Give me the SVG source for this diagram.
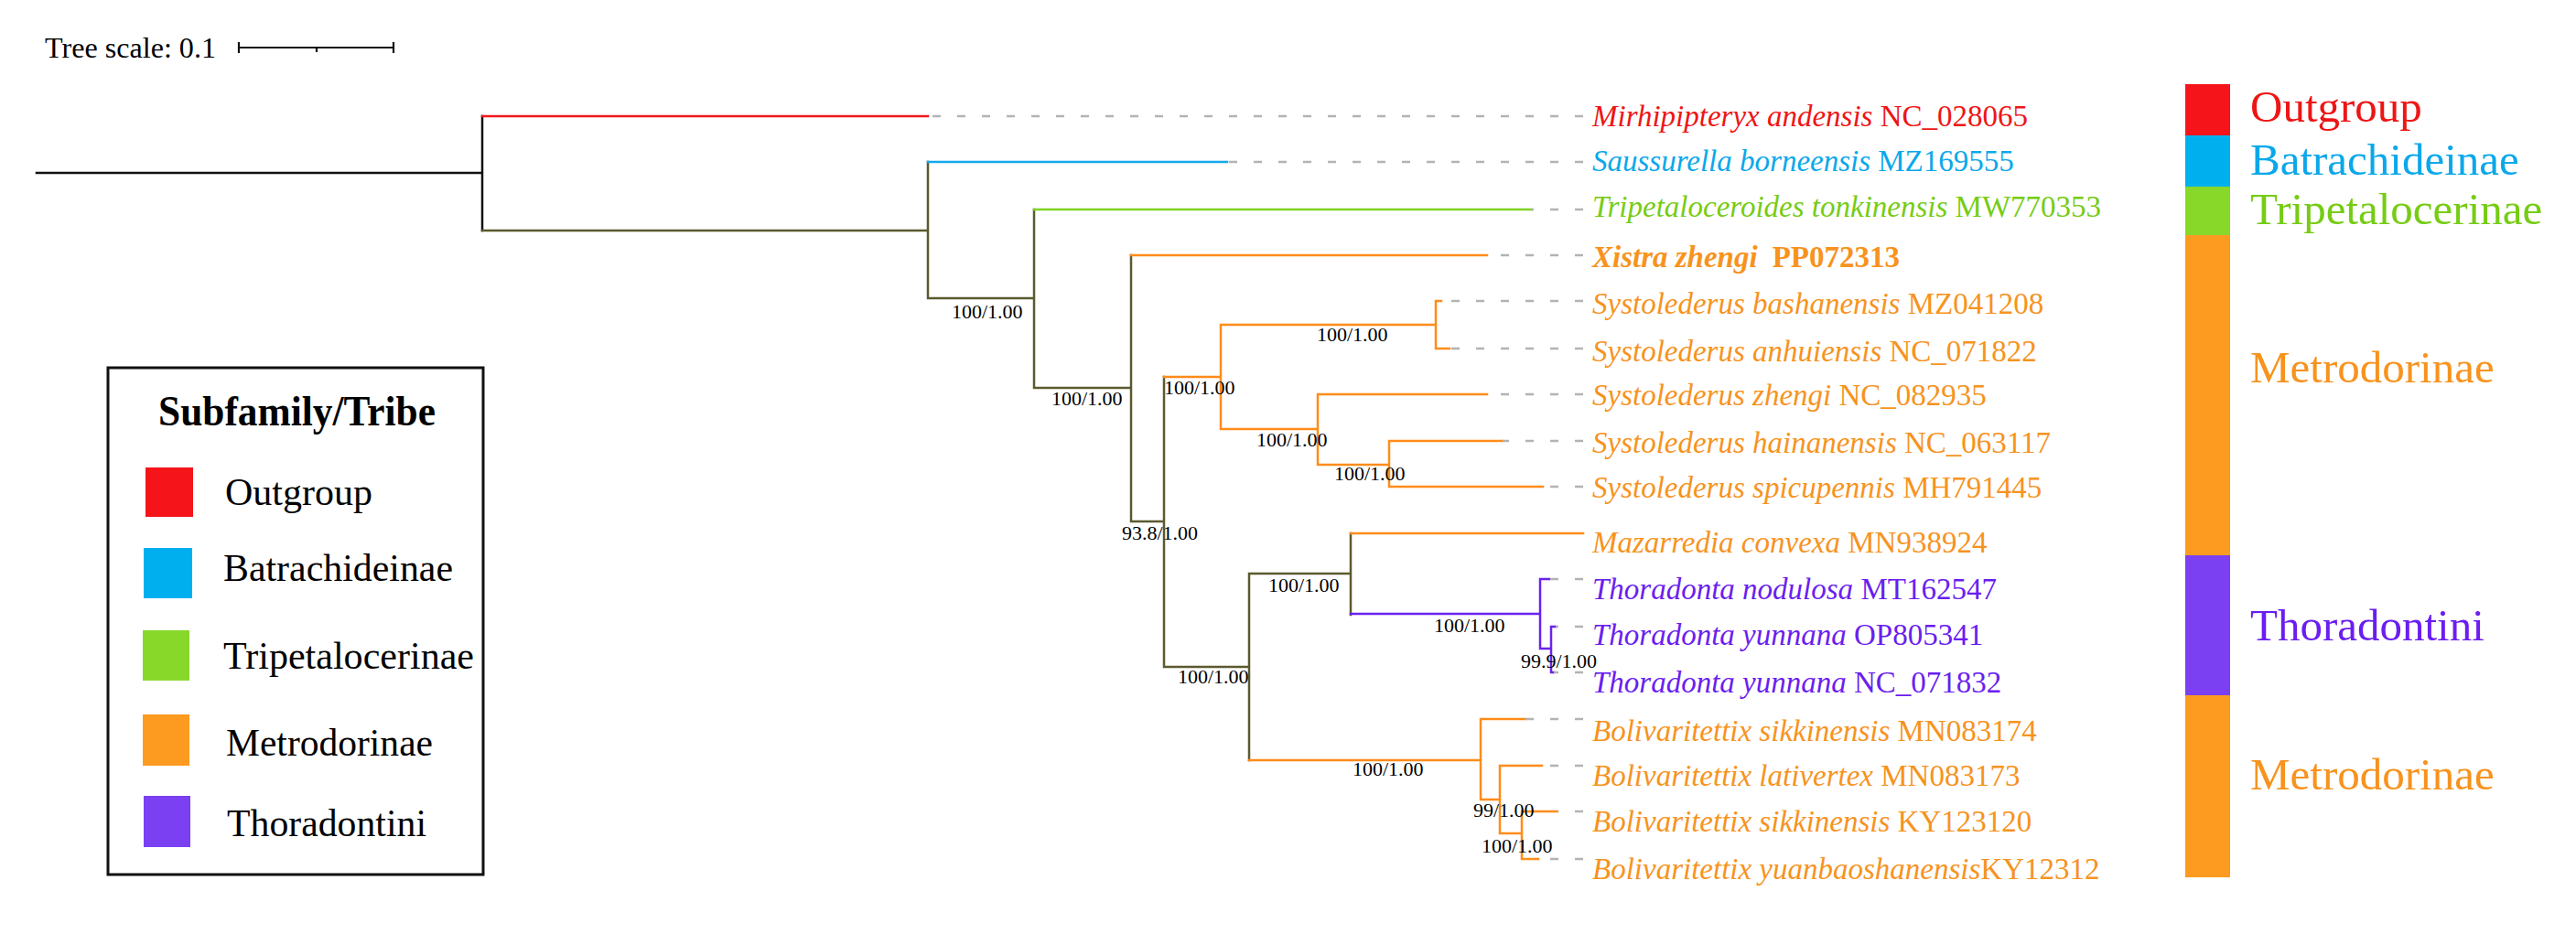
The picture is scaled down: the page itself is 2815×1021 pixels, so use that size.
<svg xmlns="http://www.w3.org/2000/svg" width="2815" height="1021" viewBox="0 0 2815 1021">
<style>
text{font-family:"Liberation Serif","Times New Roman",serif}
.br{fill:none;stroke-width:2.5;stroke-linecap:square}
.k{stroke:#111}
.ol{stroke:#5b5a2f}
.rd{stroke:#f01818}
.bl{stroke:#14a9ea}
.gr{stroke:#7fd224}
.or{stroke:#ff8c1a}
.pu{stroke:#6a22ee}
.dash{fill:none;stroke:#b3b3b3;stroke-width:2.5;stroke-dasharray:9 18}
.sup{font-size:22px;fill:#000}
.lab{font-size:33px}
.it{font-style:italic}
.cr{fill:#ee1515}.cb{fill:#0aa8ea}.cg{fill:#76cc14}.co{fill:#f7931e}.cp{fill:#6a1ef0}
.side{font-size:49px}
.leg{font-size:43px;fill:#000}
</style>
<rect width="2815" height="1021" fill="#fff"/>

<g id="tree-scale">
<text x="49" y="63" font-size="31" fill="#000" textLength="187" lengthAdjust="spacingAndGlyphs">Tree scale: 0.1</text>
<path d="M261 52H430M261 46V58M430 46V58M346 52V57" stroke="#111" stroke-width="2.2" fill="none"/>
</g>

<g id="connectors">
<path class="br k" d="M40 189H527M527 127V252"/>
<path class="br rd" d="M527 127H1014"/>
<path class="br ol" d="M527 252H1014M1014 177V326M1014 326H1130M1130 229V424M1130 424H1236M1236 279V570M1236 570H1272M1272 412V729M1272 729H1365M1365 627V831M1365 627H1476M1476 583V672"/>
<path class="br bl" d="M1014 177H1341"/>
<path class="br gr" d="M1130 229H1674"/>
<path class="br or" d="M1236 279H1625M1272 412H1334M1334 355V469M1334 355H1569M1569 329V381M1569 329H1575M1569 381H1584M1334 469H1440M1440 431V508M1440 431H1625M1440 508H1518M1518 482V532M1518 482H1642M1518 532H1686M1476 583H1730"/>
<path class="br pu" d="M1476 671H1683M1683 633V709M1683 633H1693M1683 709H1695M1695 685V735M1695 685H1700M1695 735H1698"/>
<path class="br or" d="M1365 831H1618M1618 786V874M1618 786H1667M1618 874H1639M1639 837V911M1639 837H1685M1639 911H1663M1663 887V939M1663 887H1702M1663 939H1681"/>
<path class="dash" d="M1730 127H1014M1730 177H1341M1730 229H1674M1730 279H1625M1730 329H1575M1730 381H1584M1730 431H1625M1730 482H1642M1730 532H1686M1730 633H1693M1730 685H1700M1730 735H1698M1730 786H1667M1730 837H1685M1730 887H1702M1730 939H1681"/>
</g>

<g id="support-values">
<text class="sup" x="1040" y="348">100/1.00</text>
<text class="sup" x="1149" y="443">100/1.00</text>
<text class="sup" x="1226" y="590">93.8/1.00</text>
<text class="sup" x="1272" y="431">100/1.00</text>
<text class="sup" x="1439" y="373">100/1.00</text>
<text class="sup" x="1373" y="488">100/1.00</text>
<text class="sup" x="1458" y="525">100/1.00</text>
<text class="sup" x="1287" y="747">100/1.00</text>
<text class="sup" x="1386" y="647">100/1.00</text>
<text class="sup" x="1567" y="691">100/1.00</text>
<text class="sup" x="1662" y="730">99.9/1.00</text>
<text class="sup" x="1478" y="848">100/1.00</text>
<text class="sup" x="1610" y="893">99/1.00</text>
<text class="sup" x="1619" y="932">100/1.00</text>
</g>

<g id="leaf-mirhipipteryx"><text class="lab cr" x="1740" y="138"><tspan class="it">Mirhipipteryx andensis</tspan> NC_028065</text></g>
<g id="leaf-saussurella"><text class="lab cb" x="1740" y="187"><tspan class="it">Saussurella borneensis</tspan> MZ169555</text></g>
<g id="leaf-tripetaloceroides"><text class="lab cg" x="1740" y="237"><tspan class="it">Tripetaloceroides tonkinensis</tspan> MW770353</text></g>
<g id="leaf-xistra"><text class="lab co" x="1740" y="292" font-weight="bold"><tspan class="it">Xistra zhengi</tspan><tspan dx="16">PP072313</tspan></text></g>
<g id="leaf-sys-bashanensis"><text class="lab co" x="1740" y="343"><tspan class="it">Systolederus bashanensis</tspan> MZ041208</text></g>
<g id="leaf-sys-anhuiensis"><text class="lab co" x="1740" y="395"><tspan class="it">Systolederus anhuiensis</tspan> NC_071822</text></g>
<g id="leaf-sys-zhengi"><text class="lab co" x="1740" y="443"><tspan class="it">Systolederus zhengi</tspan> NC_082935</text></g>
<g id="leaf-sys-hainanensis"><text class="lab co" x="1740" y="495"><tspan class="it">Systolederus hainanensis</tspan> NC_063117</text></g>
<g id="leaf-sys-spicupennis"><text class="lab co" x="1740" y="544"><tspan class="it">Systolederus spicupennis</tspan> MH791445</text></g>
<g id="leaf-mazarredia"><text class="lab co" x="1740" y="604"><tspan class="it">Mazarredia convexa</tspan> MN938924</text></g>
<g id="leaf-tho-nodulosa"><text class="lab cp" x="1740" y="655"><tspan class="it">Thoradonta nodulosa</tspan> MT162547</text></g>
<g id="leaf-tho-yunnana-op"><text class="lab cp" x="1740" y="705"><tspan class="it">Thoradonta yunnana</tspan> OP805341</text></g>
<g id="leaf-tho-yunnana-nc"><text class="lab cp" x="1740" y="757"><tspan class="it">Thoradonta yunnana</tspan> NC_071832</text></g>
<g id="leaf-bol-sikkinensis-mn"><text class="lab co" x="1740" y="810"><tspan class="it">Bolivaritettix sikkinensis</tspan> MN083174</text></g>
<g id="leaf-bol-lativertex"><text class="lab co" x="1740" y="859"><tspan class="it">Bolivaritettix lativertex</tspan> MN083173</text></g>
<g id="leaf-bol-sikkinensis-ky"><text class="lab co" x="1740" y="909"><tspan class="it">Bolivaritettix sikkinensis</tspan> KY123120</text></g>
<g id="leaf-bol-yuanbaoshanensis"><text class="lab co" x="1740" y="961"><tspan class="it">Bolivaritettix yuanbaoshanensis</tspan>KY12312</text></g>

<g id="group-strip">
<rect x="2388" y="92" width="49" height="56" fill="#f5141a"/>
<rect x="2388" y="148" width="49" height="56" fill="#00b0ee"/>
<rect x="2388" y="204" width="49" height="53" fill="#88d82a"/>
<rect x="2388" y="257" width="49" height="350" fill="#fd9a20"/>
<rect x="2388" y="607" width="49" height="153" fill="#7b40f2"/>
<rect x="2388" y="760" width="49" height="199" fill="#fd9a20"/>
<text class="side cr" x="2459" y="133">Outgroup</text>
<text class="side cb" x="2459" y="191">Batrachideinae</text>
<text class="side cg" x="2459" y="245">Tripetalocerinae</text>
<text class="side co" x="2459" y="418">Metrodorinae</text>
<text class="side cp" x="2459" y="700">Thoradontini</text>
<text class="side co" x="2459" y="863">Metrodorinae</text>
</g>

<g id="legend">
<rect x="118" y="402" width="410" height="554" fill="#fff" stroke="#111" stroke-width="3"/>
<text x="173" y="465" font-size="46" font-weight="bold" fill="#000" textLength="303" lengthAdjust="spacingAndGlyphs">Subfamily/Tribe</text>
<rect x="159" y="511" width="52" height="54" fill="#f5141a"/>
<text class="leg" x="246" y="552" textLength="161" lengthAdjust="spacingAndGlyphs">Outgroup</text>
<rect x="157" y="599" width="53" height="55" fill="#00b0ee"/>
<text class="leg" x="244" y="635" textLength="251" lengthAdjust="spacingAndGlyphs">Batrachideinae</text>
<rect x="156" y="689" width="51" height="55" fill="#88d82a"/>
<text class="leg" x="244" y="731" textLength="274" lengthAdjust="spacingAndGlyphs">Tripetalocerinae</text>
<rect x="156" y="781" width="51" height="56" fill="#fd9a20"/>
<text class="leg" x="247" y="826" textLength="226" lengthAdjust="spacingAndGlyphs">Metrodorinae</text>
<rect x="157" y="870" width="51" height="56" fill="#7b40f2"/>
<text class="leg" x="248" y="914" textLength="218" lengthAdjust="spacingAndGlyphs">Thoradontini</text>
</g>
</svg>
